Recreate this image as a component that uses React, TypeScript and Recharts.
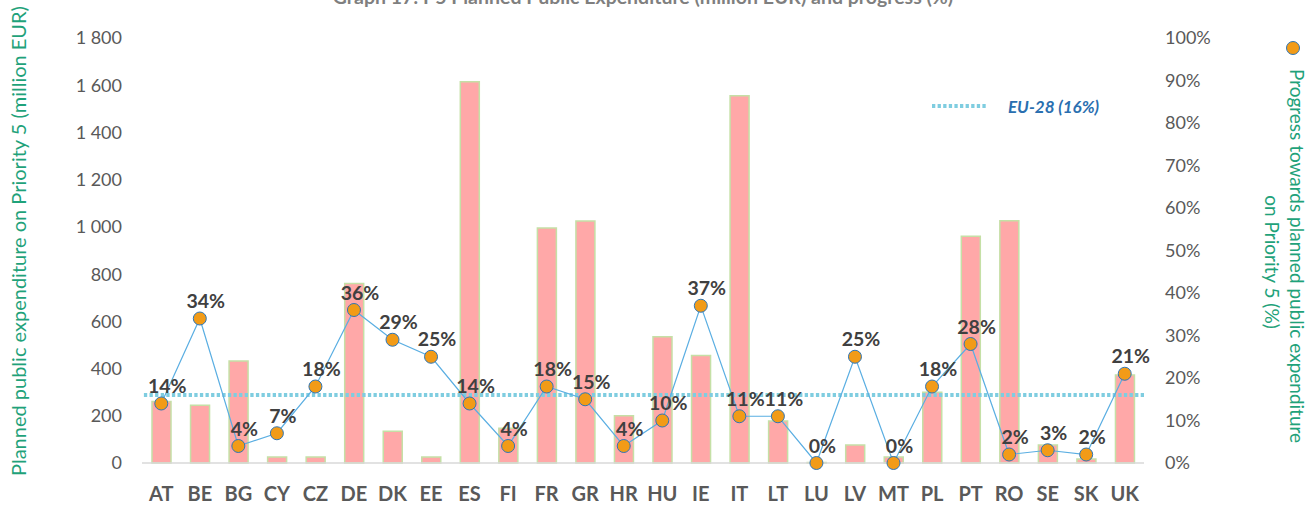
import React from 'react';
import { ComposedChart, Bar, Line, XAxis, YAxis, ReferenceLine, Customized } from 'recharts';

const COUNTRIES = ['AT', 'BE', 'BG', 'CY', 'CZ', 'DE', 'DK', 'EE', 'ES', 'FI', 'FR', 'GR', 'HR', 'HU', 'IE', 'IT', 'LT', 'LU', 'LV', 'MT', 'PL', 'PT', 'RO', 'SE', 'SK', 'UK'];
const PLANNED = [260, 245, 432, 25, 25, 760, 135, 25, 1615, 147, 995, 1025, 200, 535, 455, 1555, 178, 2, 76, 25, 300, 960, 1026, 76, 17, 373];
const PROGRESS = [14, 34, 4, 7, 18, 36, 29, 25, 14, 4, 18, 15, 4, 10, 37, 11, 11, 0, 25, 0, 18, 28, 2, 3, 2, 21];
const EU_AVG = 16;
const LEFT_TICKS = [0, 200, 400, 600, 800, 1000, 1200, 1400, 1600, 1800];
const RIGHT_TICKS = [0, 10, 20, 30, 40, 50, 60, 70, 80, 90, 100];

const FONT = 'Lato, "Open Sans", sans-serif';
const GREEN = '#1fa27a';
const DOT_FILL = '#f29b17';
const DOT_STROKE = '#2e75b6';

const data = COUNTRIES.map((c, i) => ({ country: c, planned: PLANNED[i], progress: PROGRESS[i] }));

const fmtThousands = (v: number) => (v >= 1000 ? `${Math.floor(v / 1000)} ${String(v % 1000).padStart(3, '0')}` : String(v));

const PctLabel = (props: any) => {
  const { x, y, value } = props;
  if (x == null || y == null) return null;
  return (
    <text x={x + 6} y={y - 18} textAnchor="middle" dominantBaseline="central"
      fontFamily={FONT} fontSize={19.5} fontWeight="bold" fill="#404040">
      {`${value}%`}
    </text>
  );
};

const Overlay = () => (
  <g fontFamily={FONT}>
    <text x={643} y={4} textAnchor="middle" fontSize={19.5} fontWeight="bold" fill="#7f7f7f">
      Graph 17: P5 Planned Public Expenditure (million EUR) and progress (%)
    </text>
    <text transform="translate(18,476) rotate(-90)" textAnchor="start" dominantBaseline="central" fontSize={20} fill={GREEN}>
      Planned public expenditure  on Priority 5 (million EUR)
    </text>
    <circle cx={1293} cy={48} r={6.5} fill={DOT_FILL} stroke={DOT_STROKE} strokeWidth={1} />
    <text transform="translate(1297,256) rotate(90)" textAnchor="middle" dominantBaseline="central" fontSize={19} fill={GREEN}>
      Progress towards planned public expenditure
    </text>
    <text transform="translate(1272,262) rotate(90)" textAnchor="middle" dominantBaseline="central" fontSize={19} fill={GREEN}>
      on Priority 5 (%)
    </text>
    <line x1={932} y1={106} x2={987} y2={106} stroke="#7fcde0" strokeWidth={4} strokeDasharray="3.3 2.3" />
    <text x={1008} y={106} dominantBaseline="central" fontSize={17} fontWeight="bold" fontStyle="italic" fill="#2a6fb0">
      EU-28 (16%)
    </text>
  </g>
);

export default function App() {
  return (
    <div style={{ position: 'absolute', top: 0, left: 0, width: 1316, height: 505, background: '#fff' }}>
      <ComposedChart width={1316} height={505} data={data} margin={{ top: 38, right: 0, bottom: 0, left: 0 }}
        barCategoryGap="50%" style={{ fontFamily: FONT }}>
        <XAxis dataKey="country" height={42} tickLine={false} tickSize={0} tickMargin={24}
          axisLine={{ stroke: '#d9d9d9', strokeWidth: 1.5 }}
          tick={{ fontSize: 20, fontWeight: 'bold', fill: '#595959', fontFamily: FONT }} interval={0} />
        <YAxis yAxisId="left" orientation="left" width={142} domain={[0, 1800]} ticks={LEFT_TICKS}
          tickFormatter={fmtThousands} axisLine={false} tickLine={false} tickSize={0} tickMargin={20}
          tick={{ fontSize: 18, fill: '#595959', fontFamily: FONT }} />
        <YAxis yAxisId="right" orientation="right" width={172} domain={[0, 100]} ticks={RIGHT_TICKS}
          tickFormatter={(v: number) => `${v}%`} axisLine={false} tickLine={false} tickSize={0} tickMargin={21}
          tick={{ fontSize: 18, fill: '#595959', fontFamily: FONT, textAnchor: 'start' }} />
        <ReferenceLine yAxisId="right" y={EU_AVG} stroke="#7fcde0" strokeWidth={4} strokeDasharray="3.3 2.3" />
        <Bar yAxisId="left" dataKey="planned" barSize={19} fill="#ffa8a8" stroke="#c5e0a6" strokeWidth={1.5}
          isAnimationActive={false} />
        <Line yAxisId="right" dataKey="progress" type="linear" stroke="#5aaee2" strokeWidth={1.2}
          dot={{ r: 6.5, fill: DOT_FILL, stroke: DOT_STROKE, strokeWidth: 1 }} activeDot={false}
          label={<PctLabel />} isAnimationActive={false} />
        <Customized component={Overlay} />
      </ComposedChart>
    </div>
  );
}
